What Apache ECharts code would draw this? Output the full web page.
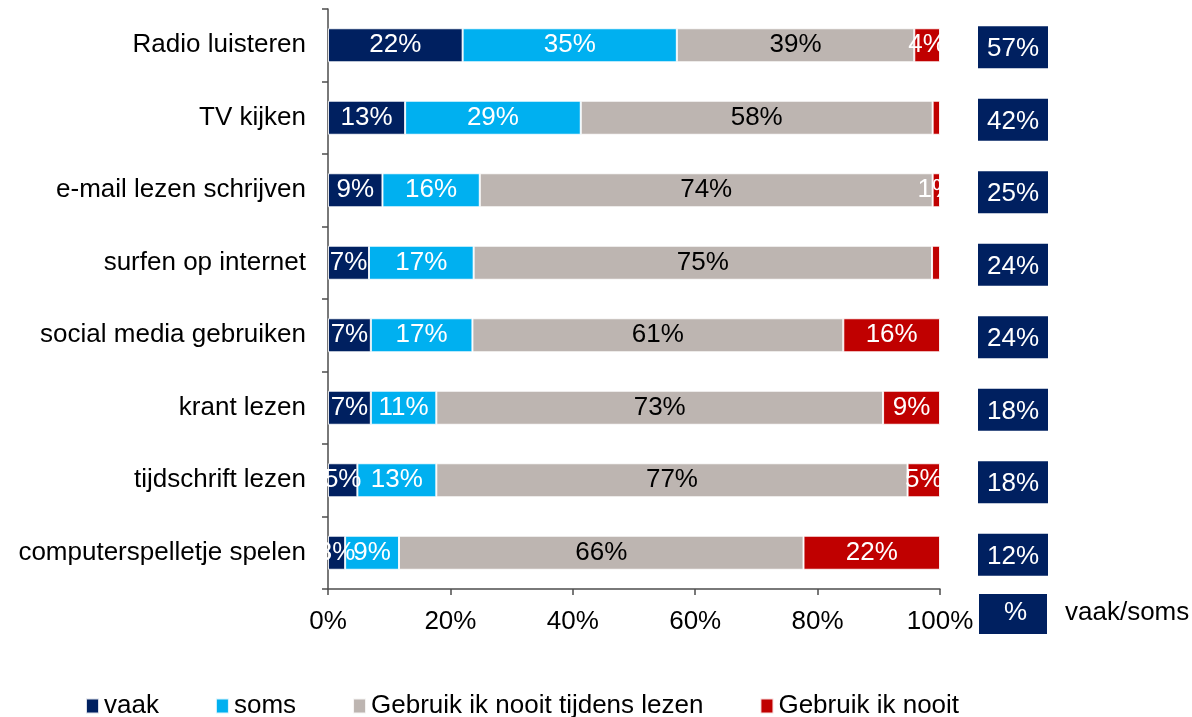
<!DOCTYPE html>
<html>
<head>
<meta charset="utf-8">
<script src="https://cdn.jsdelivr.net/npm/echarts@6/dist/echarts.min.js"></script>
<style>
html,body{margin:0;padding:0;background:#fff;}
#chart{width:1192px;height:717px;}
</style>
</head>
<body>
<div id="chart"></div>
<script>
const categories = ['Radio luisteren','TV kijken','e-mail lezen schrijven','surfen op internet','social media gebruiken','krant lezen','tijdschrift lezen','computerspelletje spelen'];
const seriesNames = ['vaak','soms','Gebruik ik nooit tijdens lezen','Gebruik ik nooit'];
const vaak  = [22, 12.6, 8.9, 6.7, 7, 7, 4.8, 2.8];
const soms  = [35, 28.7, 15.9, 17.1, 16.6, 10.7, 12.9, 8.8];
const nooitTijdens = [38.8, 57.5, 74, 74.9, 60.6, 73, 77, 66.1];
const nooit = [4.2, 1.2, 1.2, 1.3, 15.8, 9.3, 5.3, 22.3];
const nooitLabelVisible = [true, false, true, false, true, true, true, true];
const vaakSoms = [57, 42, 25, 24, 24, 18, 18, 12];
const xTicks = [0, 20, 40, 60, 80, 100];

const FONT = "'Liberation Sans', Arial, sans-serif";
const FS = 26;
const colors = ['#002060', '#00B0F0', '#BDB5B1', '#C00000'];
const labelColors = ['#fff', '#fff', '#000', '#fff'];
const seriesData = [vaak, soms, nooitTijdens, nooit];

const chart = echarts.init(document.getElementById('chart'), null, {renderer: 'canvas'});

const barSeries = seriesData.map((arr, si) => ({
  name: seriesNames[si],
  type: 'bar',
  stack: 'total',
  xAxisIndex: 0,
  yAxisIndex: 0,
  barWidth: 34,
  itemStyle: {color: colors[si], borderColor: 'rgba(255,255,255,0.85)', borderWidth: 1},
  label: {
    show: true,
    position: 'inside',
    offset: [0, 1],
    color: labelColors[si],
    fontFamily: FONT,
    fontSize: FS,
    formatter: p => Math.round(p.value) + '%'
  },
  labelLayout: {hideOverlap: false},
  emphasis: {disabled: true},
  data: arr.map((v, i) => (si === 3 && !nooitLabelVisible[i]) ? {value: v, label: {show: false}} : v)
}));

const option = {
  animation: false,
  backgroundColor: '#fff',
  textStyle: {fontFamily: FONT},
  grid: [
    {left: 328, width: 612, top: 9, height: 580, containLabel: false},
    {left: 978, width: 70, top: 9, height: 580, containLabel: false}
  ],
  legend: {
    left: 85,
    top: 693,
    padding: 0,
    itemWidth: 13,
    itemHeight: 15,
    itemGap: 56,
    icon: 'rect',
    textStyle: {fontFamily: FONT, fontSize: FS, color: '#000', padding: 0},
    data: seriesNames
  },
  xAxis: [
    {
      gridIndex: 0, type: 'value', min: xTicks[0], max: xTicks[xTicks.length - 1], interval: 20,
      axisLine: {show: true, lineStyle: {color: '#4d4d4d', width: 1.5}},
      axisTick: {show: true, length: 6, lineStyle: {color: '#4d4d4d', width: 1.5}},
      splitLine: {show: false},
      axisLabel: {color: '#000', fontFamily: FONT, fontSize: FS, margin: 20, formatter: '{value}%'}
    },
    {
      gridIndex: 1, type: 'category', data: ['vaak/soms'], show: false
    }
  ],
  yAxis: [
    {
      gridIndex: 0, type: 'category', data: categories, inverse: true,
      axisLine: {show: true, lineStyle: {color: '#4d4d4d', width: 1.5}},
      axisTick: {show: true, length: 6, lineStyle: {color: '#4d4d4d', width: 1.5}},
      axisLabel: {color: '#000', fontFamily: FONT, fontSize: FS, margin: 22, padding: [5, 0, 0, 0]}
    },
    {
      gridIndex: 1, type: 'category', data: categories, inverse: true, show: false
    }
  ],
  series: barSeries.concat([{
    name: 'vaak/soms',
    type: 'scatter',
    xAxisIndex: 1,
    yAxisIndex: 1,
    symbol: 'rect',
    symbolSize: [70, 42],
    symbolOffset: [0, 2],
    itemStyle: {color: '#002060', opacity: 1},
    label: {show: true, position: 'inside', offset: [0, 2], color: '#fff', fontFamily: FONT, fontSize: FS,
      formatter: p => p.value[2] + '%'},
    emphasis: {disabled: true},
    data: vaakSoms.map((v, i) => [0, i, v])
  }]),
  graphic: [
    {type: 'rect', left: 979, top: 594, shape: {width: 68, height: 40}, style: {fill: '#002060'}},
    {type: 'text', left: 1004, top: 600, style: {text: '%', fill: '#fff', font: FS + 'px ' + FONT}},
    {type: 'text', left: 1065, top: 600, style: {text: 'vaak/soms', fill: '#000', font: FS + 'px ' + FONT}}
  ]
};
chart.setOption(option);
</script>
</body>
</html>
